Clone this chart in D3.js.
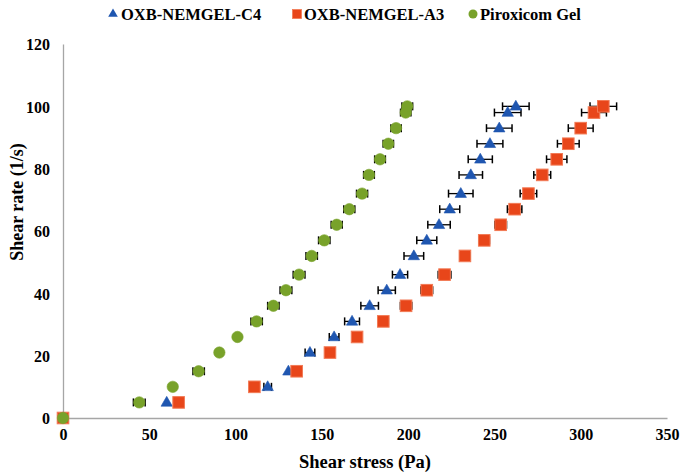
<!DOCTYPE html>
<html>
<head>
<meta charset="utf-8">
<script src="https://cdn.jsdelivr.net/npm/d3@7"></script>
<style>
  html, body { margin: 0; padding: 0; background: #fff; }
  svg { display: block; }
  text { font-family: "Liberation Serif", "Times New Roman", serif; font-weight: bold; fill: #000; }
</style>
</head>
<body>
<svg id="chart" width="692" height="474"></svg>
<script>
// ---- data ----
const shearRate = [0, 5, 10, 15, 21, 26, 31, 36, 41, 46, 52, 57, 62, 67, 72, 78, 83, 88, 93, 98, 100];
const stressC4 = [0, 60.1, 118.6, 130.6, 143.1, 157.1, 167.5, 177.7, 187.6, 195.3, 203.3, 210.8, 217.9, 224.1, 230.5, 236.3, 241.8, 247.4, 252.8, 257.7, 262.4];
const errC4 = [0, 0, 2.2, 0, 2.8, 2.8, 4.3, 5.1, 5.0, 4.4, 5.7, 5.8, 6.5, 5.8, 7.1, 6.8, 7.0, 7.5, 7.4, 7.7, 7.7];
const stressA3 = [0, 67.0, 110.9, 135.4, 154.7, 170.4, 185.6, 198.8, 210.8, 221.1, 232.9, 244.1, 253.6, 261.7, 269.7, 277.7, 286.1, 292.8, 300.0, 307.7, 313.1];
const errA3 = [0, 0, 0, 0, 0, 0, 2.9, 3.3, 3.4, 3.7, 2.8, 3.0, 3.4, 4.2, 4.8, 4.9, 5.9, 6.3, 7.2, 7.2, 7.7];
const stressPiro = [0, 44.2, 63.6, 78.6, 90.6, 101.1, 112.2, 121.9, 129.2, 136.8, 144.1, 151.4, 158.6, 165.9, 173.3, 177.3, 183.7, 188.5, 193.0, 198.6, 199.5];
const errPiro = [0, 3.4, 0, 3.3, 0, 0, 3.3, 3.3, 3.4, 3.4, 3.3, 3.3, 3.2, 3.2, 3.2, 3.1, 3.1, 3.0, 3.0, 3.0, 3.1];
const seriesNames = ["OXB-NEMGEL-C4", "OXB-NEMGEL-A3", "Piroxicom Gel"];
const xTicks = [0, 50, 100, 150, 200, 250, 300, 350];
const yTicks = [0, 20, 40, 60, 80, 100, 120];

const series = [
  { name: seriesNames[0], xs: stressC4, err: errC4, shape: "triangle", fill: "#1f56b0", stroke: "#1f56b0" },
  { name: seriesNames[1], xs: stressA3, err: errA3, shape: "square", fill: "#e8461a", stroke: "#f27a55" },
  { name: seriesNames[2], xs: stressPiro, err: errPiro, shape: "circle", fill: "#78a22a", stroke: "#78a22a" }
];

// ---- layout ----
const svg = d3.select("#chart");
const mLeft = 63, mRight = 667, mTop = 44, mBottom = 418;
const x = d3.scaleLinear().domain([0, 350]).range([mLeft, mRight]);
const y = d3.scaleLinear().domain([0, 120]).range([mBottom, mTop]);

// axes
const gx = svg.append("g").attr("transform", `translate(0,${mBottom})`)
  .call(d3.axisBottom(x).tickValues(xTicks).tickSize(0).tickPadding(11).tickFormat(d3.format("d")));
const gy = svg.append("g").attr("transform", `translate(${mLeft},0)`)
  .call(d3.axisLeft(y).tickValues(yTicks).tickSize(0).tickPadding(13).tickFormat(d3.format("d")));
[gx, gy].forEach(g => {
  g.select(".domain").attr("stroke", "#a6a6a6").attr("stroke-width", 1.3);
  g.selectAll("text").style("font-family", '"Liberation Serif", serif').style("font-weight", "bold")
    .style("font-size", "16px").attr("fill", "#000");
});
gy.selectAll("text").attr("dy", "0.36em");

// axis titles
svg.append("text").attr("x", (mLeft + mRight) / 2).attr("y", 468).attr("text-anchor", "middle")
  .style("font-size", "18.5px").text("Shear stress (Pa)");
svg.append("text").attr("transform", `translate(23,${(mTop + mBottom) / 2 - 29}) rotate(-90)`)
  .attr("text-anchor", "middle").style("font-size", "18px").text("Shear rate (1/s)");

// marker helper
function drawMarker(g, shape, fill, stroke) {
  if (shape === "triangle") {
    g.append("path").attr("d", d3.symbol(d3.symbolTriangle, 56)()).attr("transform", "translate(0,0.5)")
      .attr("fill", fill).attr("stroke", stroke).attr("stroke-width", 0.6);
  } else if (shape === "square") {
    g.append("rect").attr("x", -5.8).attr("y", -5.8).attr("width", 11.6).attr("height", 11.6)
      .attr("fill", fill).attr("stroke", stroke).attr("stroke-width", 1);
  } else {
    g.append("circle").attr("r", 5.7).attr("fill", fill).attr("stroke", stroke).attr("stroke-width", 0.6);
  }
}

// error bars (drawn under markers)
const errG = svg.append("g");
series.forEach(s => {
  shearRate.forEach((r, i) => {
    const e = s.err[i];
    if (!e) return;
    const x0 = x(s.xs[i] - e), x1 = x(s.xs[i] + e), yy = y(r);
    errG.append("line").attr("x1", x0).attr("x2", x1).attr("y1", yy).attr("y2", yy)
      .attr("stroke", "#000").attr("stroke-width", 1.3);
    [x0, x1].forEach(xx => errG.append("line").attr("x1", xx).attr("x2", xx)
      .attr("y1", yy - 4).attr("y2", yy + 4).attr("stroke", "#000").attr("stroke-width", 1.5));
  });
});

// markers
series.forEach(s => {
  const g = svg.append("g");
  shearRate.forEach((r, i) => {
    const m = g.append("g").attr("transform", `translate(${x(s.xs[i])},${y(r)})`);
    drawMarker(m, s.shape, s.fill, s.stroke);
  });
});

// legend
const legendItems = [
  { s: series[0], mx: 113, tx: 121 },
  { s: series[1], mx: 297, tx: 304 },
  { s: series[2], mx: 473, tx: 480 }
];
legendItems.forEach(it => {
  const m = svg.append("g").attr("transform", `translate(${it.mx},14)`);
  if (it.s.shape === "triangle") {
    m.append("path").attr("d", d3.symbol(d3.symbolTriangle, 40)()).attr("fill", it.s.fill);
  } else if (it.s.shape === "square") {
    m.append("rect").attr("x", -4.5).attr("y", -4.5).attr("width", 9).attr("height", 9)
      .attr("fill", it.s.fill).attr("stroke", it.s.stroke).attr("stroke-width", 0.8);
  } else {
    m.append("circle").attr("r", 4.5).attr("fill", it.s.fill);
  }
  svg.append("text").attr("x", it.tx).attr("y", 20).style("font-size", "16.5px").text(it.s.name);
});
</script>
</body>
</html>
